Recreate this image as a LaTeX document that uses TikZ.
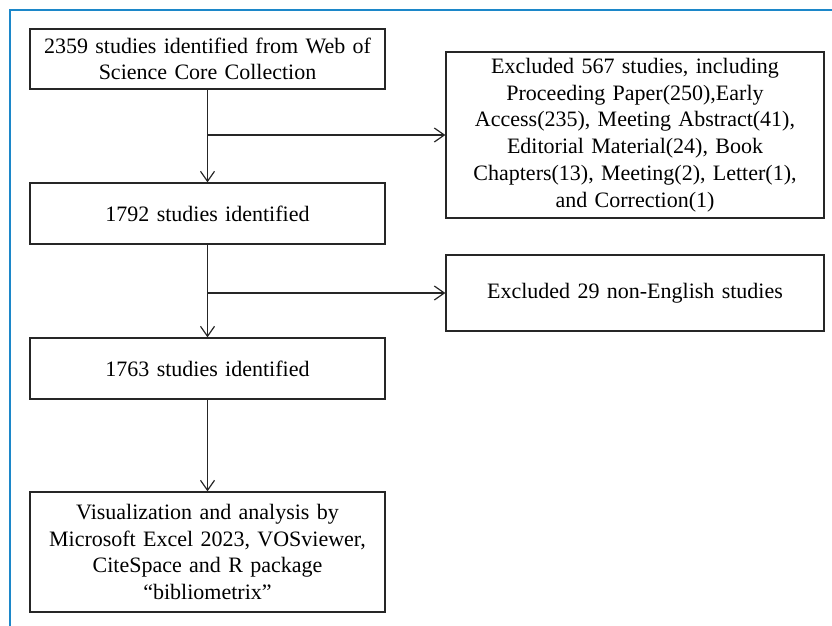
\documentclass[tikz,border=0pt]{standalone}
\usepackage{fontspec}
\setmainfont{Liberation Serif}
\usepackage{xcolor}
\usetikzlibrary{arrows.meta}
\definecolor{framblue}{HTML}{1C87C9}
\tikzset{
    tbox/.style = {align=center, inner sep=0pt, text centered, draw=black!85, line width=1.3pt,
                   font=\fontsize{22}{26.7}\selectfont},
    sbox/.style = {tbox, minimum width=355pt, text width=345pt},
    xbox/.style = {tbox, minimum width=378pt, text width=370pt},
    flow/.style = {-{Straight Barb[length=10pt,width=14pt,line width=1.2pt]}, line width=1.3pt, black!85}
}
\begin{document}
\begin{tikzpicture}[x=1pt, y=-1pt]
    \useasboundingbox (0,0) rectangle (832,626);
    % frame
    \draw [framblue, line width=2.5pt] (10,626) -- (10,10) -- (832,10);
    % main column
    \node [sbox, minimum height=60pt] (src) at (207.5,59) {2359 studies identified from Web of\\Science Core Collection};
    \node [sbox, minimum height=61pt] (s1792) at (207.5,213.5) {1792 studies identified};
    \node [sbox, minimum height=61pt] (s1763) at (207.5,368.5) {1763 studies identified};
    \node [sbox, minimum height=120pt] (anal) at (207.5,552) {Visualization and analysis by\\Microsoft Excel 2023, VOSviewer,\\CiteSpace and R package\\``bibliometrix''};
    % excluded
    \node [xbox, minimum height=166pt] (ex567) at (635,135) {Excluded 567 studies, including\\Proceeding Paper(250),Early\\Access(235), Meeting Abstract(41),\\Editorial Material(24), Book\\Chapters(13), Meeting(2), Letter(1),\\and Correction(1)};
    \node [xbox, minimum height=76pt] (ex29) at (635,293) {Excluded 29 non-English studies};
    \coordinate (b1) at (src.south |- ex567.west);
    \coordinate (b2) at (s1792.south |- ex29.west);
    \draw [flow] (src) -- (s1792);
    \draw [flow] (s1792) -- (s1763);
    \draw [flow] (s1763) -- (anal);
    \draw [flow] (b1) -- (ex567.west);
    \draw [flow] (b2) -- (ex29.west);
\end{tikzpicture}
\end{document}
